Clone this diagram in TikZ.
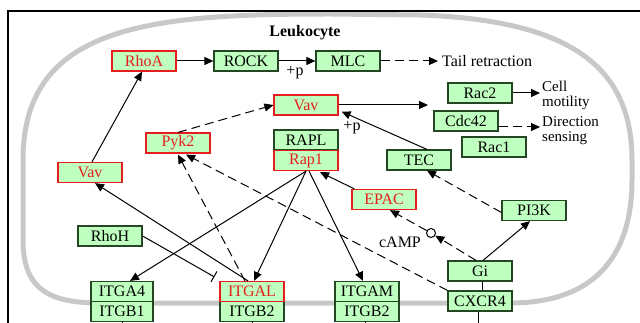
\documentclass[tikz,border=0pt]{standalone}
\usepackage{fontspec}
\setmainfont{Liberation Serif}
\usetikzlibrary{arrows.meta,calc}
\definecolor{kgreen}{RGB}{191,255,191}
\definecolor{kdark}{RGB}{35,70,35}
\definecolor{kred}{RGB}{230,30,30}
\definecolor{memb}{RGB}{200,200,200}
\begin{document}
\begin{tikzpicture}[x=1pt,y=-1pt,
  box/.style={draw=kdark, fill=kgreen, line width=1.2pt, minimum width=64pt, minimum height=20pt, inner sep=0pt, font=\fontsize{16}{16}\selectfont, text=black},
  rbox/.style={box, draw=kred, text=kred},
  lbl/.style={font=\fontsize{16}{16}\selectfont, inner sep=0pt},
  twoline/.style={lbl, anchor=west, align=left, font=\fontsize{15}{15}\selectfont},
  arr/.style={line width=1pt, -{Triangle[length=9pt,width=8pt]}},
  darr/.style={arr, dash pattern=on 9pt off 5pt},
  plain/.style={line width=1pt},
]
\useasboundingbox (0,0) rectangle (640,323);
% cell membrane
\draw[memb, line width=5pt] (23,160) -- (23,240) .. controls (23,290) and (50,303) .. (100,303) -- (510,303) .. controls (600,303) and (632,250) .. (632,180) -- (632,160) .. controls (632,60) and (560,20) .. (420,15) -- (330,14) .. controls (150,14) and (23,25) .. (23,160) -- cycle;
% frame
\draw[line width=1.8pt] (8,330) -- (8,11) -- (650,11);
\node[font=\fontsize{16}{16}\selectfont\bfseries, inner sep=0pt] (leuk) at (305,33) {Leukocyte};
% nodes
\node[rbox] (rhoa) at (144,61) {RhoA};
\node[box] (rock) at (246,61) {ROCK};
\node[box] (mlc) at (348,61) {MLC};
\node[lbl, anchor=west] (tail) at (442,61) {Tail retraction};
\node[rbox] (vavT) at (306,105) {Vav};
\node[box] (rac2) at (480,93) {Rac2};
\node[box] (cdc42) at (466,121) {Cdc42};
\node[box] (rac1) at (494,147) {Rac1};
\node[twoline] (motil) at (542,95) {Cell\\motility};
\node[twoline] (dirs) at (542,131) {Direction\\sensing};
\node[box] (rapl) at (306,140) {RAPL};
\node[rbox] (rap1) at (306,160.5) {Rap1};
\node[rbox] (pyk2) at (178,143) {Pyk2};
\node[box] (tec) at (419,160) {TEC};
\node[rbox] (vavL) at (90,172.5) {Vav};
\node[rbox] (epac) at (384,199.5) {EPAC};
\node[box] (pi3k) at (534,210.5) {PI3K};
\node[box] (rhoh) at (110,236) {RhoH};
\node[box] (gi) at (480,271) {Gi};
\node[box] (cxcr4) at (480,301) {CXCR4};
\node[box, minimum width=62pt] (itga4) at (122,291.5) {ITGA4};
\node[box, minimum width=62pt] (itgb1) at (122,311.5) {ITGB1};
\node[box] (itgb2a) at (252,311.5) {ITGB2};
\node[rbox] (itgal) at (252,291.5) {ITGAL};
\node[box] (itgam) at (367,291.5) {ITGAM};
\node[box] (itgb2b) at (367,311.5) {ITGB2};
\node[circle, draw, fill=white, line width=1pt, minimum size=9pt, inner sep=0pt] (camp) at (431,233) {};
\node[lbl] (camplbl) at (400,242) {cAMP};
\node[lbl] (p1) at (295,73) {+p};
\node[lbl] (p2) at (352,128) {+p};
% free ends
\coordinate (vavR) at (428,105);
\coordinate (motilE) at (540,93);
\coordinate (dirE) at (540,127);
\coordinate (d1) at (122,330);
\coordinate (d2) at (252,330);
\coordinate (d3) at (365,330);
\coordinate (d4) at (478,330);
% connectors
\draw[arr] (rhoa) -- (rock);
\draw[arr] (rock) -- (mlc);
\draw[darr, shorten >=4pt] (mlc) -- (tail);
\draw[arr] ($(vavL.north)+(2,0)$) -- ($(rhoa.south)+(-2,0)$);
\draw[darr] (pyk2.north) -- (vavT.west);
\draw[arr] (vavT.east) -- (vavR);
\draw[arr] ($(tec.north)+(8,0)$) -- ($(vavT.south east)+(3,-4)$);
\draw[arr] (rac2.east) -- (motilE);
\draw[darr] ($(cdc42.east)+(0,6)$) -- (dirE);
\draw[darr] ($(pi3k.west)+(0,2)$) -- ($(tec.south)+(8,0)$);
\draw[arr] ($(epac.north west)+(3,0)$) -- ($(rap1.south)+(14,1)$);
\draw[arr] ($(gi.north)+(3,0)$) -- ($(pi3k.south)+(-4,0)$);
\draw[darr] ($(gi.north)+(-4,0)$) -- (camp);
\draw[darr] (camp) -- ($(epac.south)+(6,0)$);
\draw[darr] (cxcr4.north west) -- ($(pyk2.south)+(8,1)$);
\draw[darr] ($(itgal.north)+(-7,0)$) -- ($(pyk2.south)+(0,1)$);
\draw[arr] ($(itgal.north)+(-4,0)$) -- ($(vavL.south)+(5,0)$);
\draw[plain, -{Bar[width=12pt]}] (rhoh.east) -- ($(itgal.north west)+(-5,-4)$);
\draw[arr] (rap1.south) -- ($(itga4.north)+(8,0)$);
\draw[arr] (rap1.south) -- ($(itgal.north)+(2,0)$);
\draw[arr] ($(rap1.south)+(3,0)$) -- ($(itgam.north)+(-4,0)$);
\draw[plain] ($(gi.south)+(2,0)$) -- ($(cxcr4.north)+(2,0)$);
\draw[plain] (itgb1.south) -- (d1);
\draw[plain] (itgb2a.south) -- (d2);
\draw[plain] ($(itgb2b.south)+(-2,0)$) -- (d3);
\draw[plain] ($(cxcr4.south)+(-2,0)$) -- (d4);
\end{tikzpicture}
\end{document}
